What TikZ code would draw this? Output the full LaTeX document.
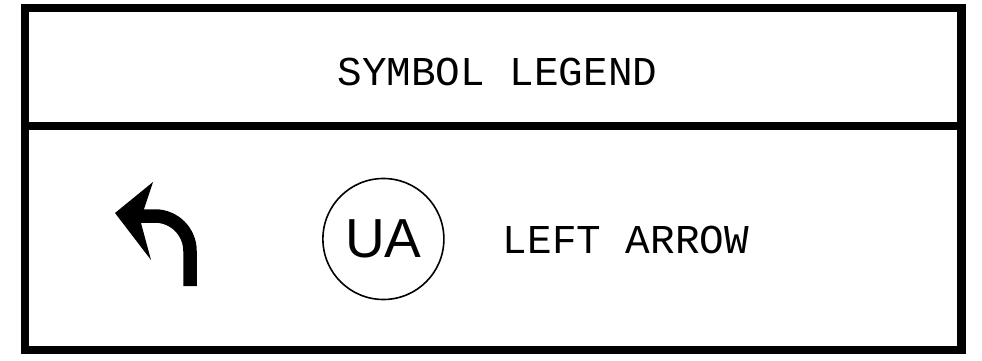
\documentclass[tikz,border=0pt]{standalone}
\usepackage{fontspec}
\setmainfont{Liberation Sans}
\newfontfamily\legendmono{Liberation Mono}
\begin{document}
\begin{tikzpicture}[x=1pt,y=-1pt,
  frame/.style={line width=8.5pt,line join=miter},
  monotext/.style={inner sep=0pt,font=\legendmono\fontsize{41}{41}\selectfont},
  symcircle/.style={circle,draw,line width=1.6pt,minimum size=121pt,inner sep=0pt,
    font=\fontsize{55}{55}\selectfont}]
\useasboundingbox (0,0) rectangle (982,361);
% frame
\draw[frame] (25,8) rectangle (961.5,350);
\draw[frame] (25,126) -- (961.5,126);
% texts
\node[monotext] (title) at (497.5,72) {SYMBOL LEGEND};
\node[monotext] (label) at (626,240) {LEFT ARROW};
\node[symcircle] (ua) at (383.4,239) {UA};
% left turn arrow symbol
\draw[line width=13.5pt] (141,216) -- (155,216) arc[start angle=-90,end angle=0,radius=35] -- (190,286);
\fill (115,213) -- (153,182) -- (144,209) -- (141,223) -- (151,260) -- cycle;
\end{tikzpicture}
\end{document}
